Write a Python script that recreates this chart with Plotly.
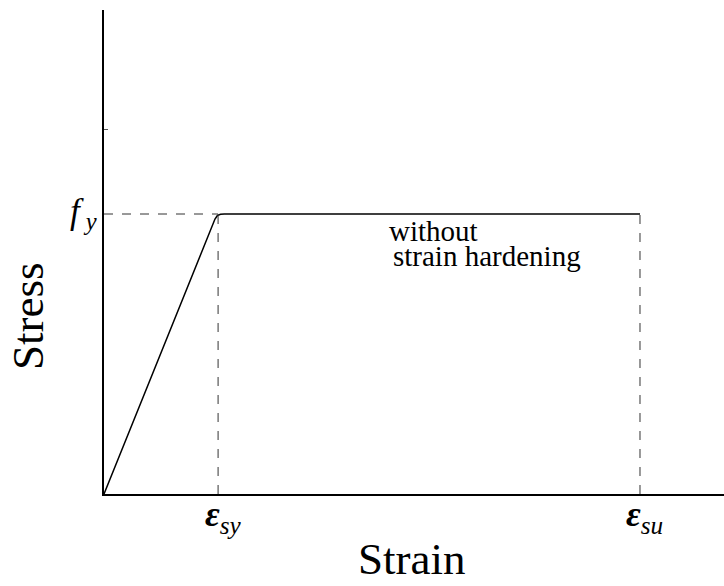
import plotly.graph_objects as go

# Idealised stress-strain law for reinforcing steel (normalised units)
eps_sy = 0.184     # yield strain
eps_su = 0.8645    # ultimate strain
f_y = 0.5785       # yield stress
y_tick = 0.754     # single minor tick on the stress axis

# Elastic branch, a small rounded knee, then the yield plateau
strain_curve = [0.0, 0.1790, 0.1830, 0.1880, 0.1940, eps_su]
stress_curve = [0.0, 0.5680, 0.5755, 0.5780, 0.5785, f_y]

FONT = "Times New Roman, Tinos, Liberation Serif, DejaVu Serif, serif"

fig = go.Figure()
fig.add_trace(go.Scatter(
    x=strain_curve, y=stress_curve, mode="lines",
    line=dict(color="black", width=1.5), hoverinfo="skip", showlegend=False,
))

dash = dict(color="#333333", width=1, dash="dash")
fig.add_shape(type="line", x0=0, x1=eps_sy, y0=f_y, y1=f_y, xref="x", yref="y", line=dash)
fig.add_shape(type="line", x0=eps_sy, x1=eps_sy, y0=0, y1=f_y, xref="x", yref="y", line=dash)
fig.add_shape(type="line", x0=eps_su, x1=eps_su, y0=0, y1=f_y, xref="x", yref="y", line=dash)

ann = []
# strain markers below the axis
for xv, sub in [(eps_sy, "sy"), (eps_su, "su")]:
    ann.append(dict(
        x=xv, y=0, xref="x", yref="y", xanchor="center", yanchor="top",
        xshift=5, yshift=2, showarrow=False,
        text=f"<b><i>ε</i></b><sub><i>{sub}</i></sub>",
        font=dict(family=FONT, size=36, color="black"),
    ))
# yield stress label
ann.append(dict(
    x=0, y=f_y, xref="x", yref="y", xanchor="right", yanchor="middle",
    xshift=-5, yshift=1, showarrow=False,
    text="<i>f</i><sub><i> y</i></sub>",
    font=dict(family=FONT, size=35, color="black"),
))
# plateau description
ann.append(dict(
    x=(387 - 104) / 620, y=(494 - 231) / 484, xref="paper", yref="paper",
    xanchor="left", yanchor="middle", showarrow=False, text="without",
    font=dict(family=FONT, size=29, color="black"),
))
ann.append(dict(
    x=(391 - 104) / 620, y=(494 - 256) / 484, xref="paper", yref="paper",
    xanchor="left", yanchor="middle", showarrow=False, text="strain hardening",
    font=dict(family=FONT, size=29, color="black"),
))
# axis titles
ann.append(dict(
    x=(28 - 104) / 620, y=(494 - 316) / 484, xref="paper", yref="paper",
    xanchor="center", yanchor="middle", showarrow=False, text="Stress",
    textangle=-90, font=dict(family=FONT, size=45, color="black"),
))
ann.append(dict(
    x=(412 - 104) / 620, y=(494 - 586) / 484, xref="paper", yref="paper",
    xanchor="center", yanchor="bottom", showarrow=False, text="Strain",
    font=dict(family=FONT, size=45, color="black"),
))

fig.update_layout(
    width=724, height=586,
    margin=dict(l=104, r=0, t=10, b=92),
    paper_bgcolor="white", plot_bgcolor="white",
    font=dict(family=FONT),
    annotations=ann,
    xaxis=dict(range=[0, 1], showgrid=False, zeroline=False, showticklabels=False,
               ticks="", showline=True, linecolor="black", linewidth=1.5, fixedrange=True),
    yaxis=dict(range=[0, 1], showgrid=False, zeroline=False, showticklabels=False,
               tickvals=[y_tick], ticks="inside", ticklen=4, tickcolor="#555555", tickwidth=1,
               showline=True, linecolor="black", linewidth=1.5, fixedrange=True),
)

fig.write_html("out.html", config={"displayModeBar": False})
